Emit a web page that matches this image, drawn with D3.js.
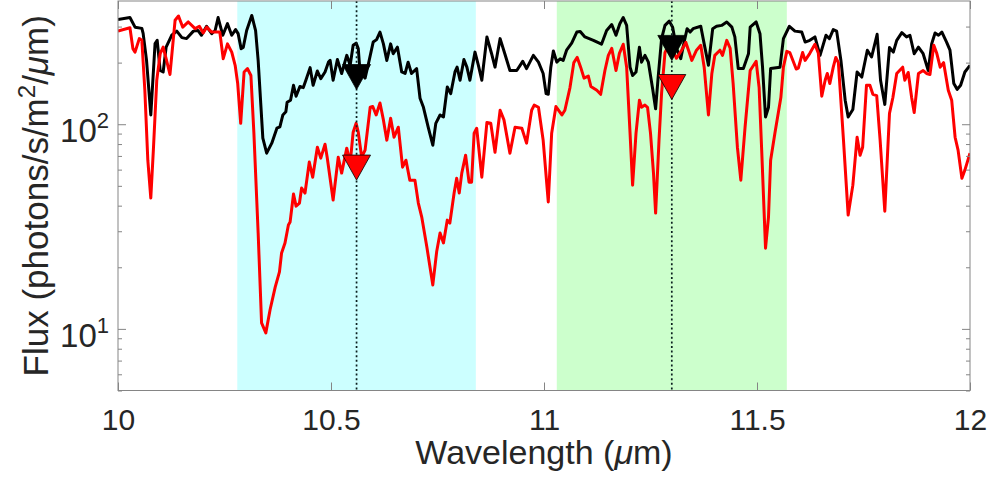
<!DOCTYPE html>
<html>
<head>
<meta charset="utf-8">
<script src="https://cdn.jsdelivr.net/npm/d3@7"></script>
<style>
body { margin: 0; background: #fff; }
text { font-family: "Liberation Sans", Arial, Helvetica, sans-serif; fill: #262626; }
</style>
</head>
<body>
<div id="chart"></div>
<script>
// spectrum values (wavelength in um, flux in photons/s/m2/um)
var blackWl = [10.000,10.028,10.040,10.056,10.059,10.067,10.077,10.087,10.092,10.099,
    10.106,10.113,10.126,10.138,10.150,10.161,10.177,10.188,10.196,10.208,
    10.220,10.228,10.235,10.246,10.257,10.267,10.276,10.282,10.289,10.294,
    10.302,10.314,10.323,10.329,10.340,10.349,10.361,10.373,10.380,10.387,
    10.394,10.397,10.405,10.412,10.418,10.427,10.435,10.441,10.451,10.458,
    10.468,10.476,10.486,10.494,10.498,10.505,10.515,10.525,10.537,10.545,
    10.552,10.559,10.564,10.568,10.580,10.588,10.599,10.607,10.615,10.623,
    10.631,10.640,10.646,10.656,10.666,10.674,10.681,10.689,10.701,10.709,
    10.717,10.728,10.739,10.746,10.756,10.764,10.773,10.781,10.791,10.796,
    10.803,10.812,10.819,10.826,10.838,10.846,10.854,10.866,10.877,10.885,
    10.897,10.908,10.920,10.936,10.944,10.950,10.959,10.975,10.987,10.998,
    11.005,11.010,11.016,11.022,11.030,11.038,11.045,11.053,11.065,11.077,
    11.085,11.096,11.116,11.135,11.147,11.159,11.169,11.178,11.186,11.194,
    11.202,11.208,11.216,11.224,11.229,11.237,11.245,11.255,11.262,11.268,
    11.276,11.284,11.294,11.302,11.311,11.321,11.329,11.336,11.343,11.350,
    11.368,11.376,11.386,11.396,11.405,11.417,11.429,11.441,11.448,11.456,
    11.468,11.480,11.484,11.498,11.507,11.513,11.520,11.527,11.532,11.554,
    11.562,11.576,11.589,11.605,11.613,11.624,11.636,11.648,11.662,11.670,
    11.679,11.687,11.697,11.707,11.714,11.725,11.735,11.746,11.759,11.769,
    11.782,11.790,11.800,11.811,11.820,11.828,11.840,11.851,11.859,11.869,
    11.879,11.890,11.902,11.910,11.918,11.926,11.934,11.945,11.953,11.962,
    11.970,11.978,11.988,12.000];
var blackFlux = [325,332,298,294,278,205,111,248,257,183,
    180,238,272,285,265,262,285,287,272,301,
    277,287,332,272,310,272,290,277,234,237,
    287,340,287,205,85.5,72.2,80.8,95.6,97,111,
    115,128,131,155,137,153,151,164,189,155,
    182,167,180,201,205,164,207,177,217,194,
    243,249,234,183,168,198,252,259,282,247,
    205,247,221,238,180,177,201,177,187,134,
    121,97,79,101,111,108.5,152,141,180,190,
    164,207,190,164,225,194,164,267,221,190,
    262,221,183,183,194,203,187,217,201,177,
    141,140,190,228,201,209,205,230,249,282,
    284,267,257,246,287,307,272,310,332,304,
    190,173,180,238,201,217,201,149,119,170,
    262,304,319,298,235,209,252,293,282,293,
    301,247,194,293,301,304,316,298,267,187,
    187,221,298,316,277,190,108.5,121,187,190,
    262,301,285,282,252,257,267,217,272,262,
    290,285,205,131,108.5,118,180,170,230,213,
    275,164,125,237,225,257,280,267,272,221,
    238,221,183,247,279,272,282,252,230,158,
    148,155,180,194];

var redWl = [10.000,10.028,10.035,10.040,10.050,10.056,10.063,10.070,10.077,10.083,
    10.091,10.099,10.106,10.114,10.122,10.134,10.142,10.152,10.165,10.181,
    10.191,10.200,10.208,10.220,10.239,10.247,10.257,10.267,10.275,10.281,
    10.288,10.296,10.304,10.312,10.319,10.329,10.337,10.347,10.357,10.369,
    10.379,10.384,10.392,10.400,10.404,10.412,10.418,10.426,10.431,10.439,
    10.449,10.457,10.468,10.476,10.486,10.491,10.505,10.517,10.525,10.537,
    10.545,10.552,10.559,10.564,10.572,10.580,10.592,10.598,10.606,10.615,
    10.623,10.631,10.640,10.648,10.658,10.668,10.676,10.685,10.697,10.705,
    10.713,10.725,10.739,10.748,10.756,10.764,10.773,10.779,10.789,10.795,
    10.801,10.807,10.816,10.824,10.830,10.836,10.842,10.854,10.866,10.875,
    10.885,10.897,10.906,10.920,10.932,10.948,10.959,10.971,10.977,10.987,
    10.998,11.010,11.018,11.028,11.042,11.049,11.061,11.070,11.078,11.086,
    11.094,11.104,11.110,11.124,11.133,11.143,11.151,11.159,11.169,11.177,
    11.186,11.194,11.202,11.208,11.216,11.224,11.229,11.237,11.243,11.250,
    11.257,11.262,11.270,11.276,11.284,11.292,11.302,11.311,11.323,11.333,
    11.341,11.347,11.358,11.368,11.376,11.386,11.394,11.401,11.413,11.419,
    11.429,11.437,11.444,11.454,11.462,11.472,11.484,11.498,11.505,11.511,
    11.520,11.527,11.532,11.542,11.556,11.562,11.570,11.577,11.592,11.597,
    11.607,11.613,11.624,11.636,11.644,11.652,11.660,11.665,11.671,11.679,
    11.685,11.691,11.703,11.714,11.725,11.735,11.742,11.748,11.757,11.765,
    11.772,11.781,11.789,11.800,11.811,11.819,11.828,11.842,11.847,11.855,
    11.863,11.869,11.879,11.890,11.898,11.906,11.915,11.922,11.930,11.938,
    11.949,11.957,11.965,11.972,11.981,11.988,12.000];
var redFlux = [285,296,234,225,262,257,146.5,66.7,43.6,74.7,
    164,221,238,205,175,322,338,298,316,293,
    301,279,298,282,282,209,247,225,194,158,
    101,180,187,173,90.4,29.4,10.7,9.56,12.4,16.0,
    19.0,23.5,26.3,32.2,33.3,45.6,39.8,41.2,48.8,46.1,
    65.3,55.1,77.2,68.3,79.9,69,42.6,69,57.7,76.4,
    64.5,91.4,101,91.4,69,74.7,121,122,111,127,
    105,83.6,107,86.4,96.7,61.7,66.7,53.3,53.3,41.2,
    35.2,25.1,16.4,23.8,29.4,26.3,34,32.9,46.1,54.5,
    46.1,57.7,70.6,52.1,52.1,90.4,95.6,55.1,102,101,
    73,117,105,72.2,96.7,95.6,80.8,117,124,121,
    83.6,41.7,90.4,122,111,117,151,200,212,190,
    168,172,153,146.5,140,183,217,235,183,222,
    246,190,90.4,50.4,90.4,131,121,124,121,90.4,
    57.7,36.8,83.6,142,224,243,230,210,230,251,
    224,205,230,243,190,111,177,217,230,217,
    257,235,158,77.2,53.3,96.7,183,203,151,74.7,
    24.8,35.2,66.7,90.4,135,190,227,224,186,188,
    224,205,222,246,222,137,164,177,158,190,
    212,200,83.6,36,50.4,86.4,70.6,77.2,155,155,
    140,138,83.6,37.6,113,135,177,190,164,179,
    135,114,177,183,177,175,243,222,190,200,
    146.5,131,86.4,74.7,54.5,59.7,72.2];

// marked wavelengths and their upper-limit markers
var markerWl = [10.56, 11.30];
var blackMarker = [170, 236];
var redMarker = [61.4, 152];

// shaded bands
var bandStart = [10.28, 11.03];
var bandEnd = [10.84, 11.57];
var bandColor = ["#ccffff", "#ccffcc"];

// ticks
var xTicks = [10, 10.5, 11, 11.5, 12];
var xTickLabels = ["10", "10.5", "11", "11.5", "12"];
var yMajor = [10, 100];
var yMajorExp = ["1", "2"];
var yMinor = [5, 6, 7, 8, 9, 20, 30, 40, 50, 60, 70, 80, 90, 200, 300];

var margin = {top: 1, right: 20, bottom: 91.5, left: 118},
    width = 990 - margin.left - margin.right,
    height = 482 - margin.top - margin.bottom;

var svg = d3.select("#chart").append("svg")
    .attr("width", width + margin.left + margin.right)
    .attr("height", height + margin.top + margin.bottom)
    .append("g")
    .attr("transform", "translate(" + margin.left + "," + margin.top + ")");

var xScale = d3.scaleLinear().domain([10, 12]).range([0, width]),
    yScale = d3.scaleLog().domain([5, 400]).range([height, 0]);

svg.append("clipPath").attr("id", "clip")
    .append("rect").attr("width", width).attr("height", height);

// bands
svg.selectAll(".band")
    .data(bandStart)
    .enter().append("rect")
    .attr("class", "band")
    .attr("x", function(d) { return xScale(d); })
    .attr("y", 0)
    .attr("width", function(d, i) { return xScale(bandEnd[i]) - xScale(d); })
    .attr("height", height)
    .attr("fill", function(d, i) { return bandColor[i]; });

var line = d3.line()
    .x(function(d) { return xScale(d[0]); })
    .y(function(d) { return yScale(d[1]); });

svg.append("path")
    .datum(d3.zip(blackWl, blackFlux))
    .attr("fill", "none")
    .attr("stroke", "#000")
    .attr("stroke-width", 3)
    .attr("stroke-linejoin", "round")
    .attr("clip-path", "url(#clip)")
    .attr("d", line);

svg.append("path")
    .datum(d3.zip(redWl, redFlux))
    .attr("fill", "none")
    .attr("stroke", "#ff0000")
    .attr("stroke-width", 3)
    .attr("stroke-linejoin", "round")
    .attr("clip-path", "url(#clip)")
    .attr("d", line);

// dotted lines
svg.selectAll(".vline")
    .data(markerWl)
    .enter().append("line")
    .attr("class", "vline")
    .attr("x1", function(d) { return xScale(d); })
    .attr("x2", function(d) { return xScale(d); })
    .attr("y1", 0)
    .attr("y2", height)
    .attr("stroke", "#0b1f1f")
    .attr("stroke-width", 1.7)
    .attr("stroke-dasharray", "2,2.6");

// down triangles
var tri = "M-14,-12.5L14,-12.5L0,12.5Z";
function markers(vals, color) {
    svg.selectAll(null)
        .data(vals)
        .enter().append("path")
        .attr("d", tri)
        .attr("transform", function(d, i) {
            return "translate(" + xScale(markerWl[i]) + "," + yScale(d) + ")";
        })
        .attr("fill", color)
        .attr("stroke", "#000")
        .attr("stroke-width", 0.8);
}
markers(blackMarker, "#000");
markers(redMarker, "#ff0000");

// axes
var axisColor = "#858585";

var xb = svg.append("g")
    .attr("class", "x axis")
    .attr("transform", "translate(0," + height + ")")
    .call(d3.axisBottom(xScale).tickValues(xTicks)
        .tickFormat(function(d, i) { return xTickLabels[i]; })
        .tickSize(-8).tickPadding(18));
xb.attr("font-size", 30).attr("font-family", null).attr("color", axisColor);
xb.select(".domain").remove();

var xt = svg.append("g")
    .call(d3.axisTop(xScale).tickValues(xTicks).tickFormat("").tickSize(-8));
xt.attr("color", axisColor).select(".domain").remove();

[[d3.axisLeft, 0], [d3.axisRight, width]].forEach(function(a) {
    var gMaj = svg.append("g")
        .attr("transform", "translate(" + a[1] + ",0)")
        .call(a[0](yScale).tickValues(yMajor).tickFormat("").tickSize(-8));
    gMaj.attr("color", axisColor).select(".domain").remove();
    var gMin = svg.append("g")
        .attr("transform", "translate(" + a[1] + ",0)")
        .call(a[0](yScale).tickValues(yMinor).tickFormat("").tickSize(-4));
    gMin.attr("color", axisColor).select(".domain").remove();
});

svg.append("rect")
    .attr("width", width)
    .attr("height", height)
    .attr("fill", "none")
    .attr("stroke", axisColor)
    .attr("stroke-width", 1);

// y tick labels with exponents
var yl = svg.selectAll(".ylab")
    .data(yMajor)
    .enter().append("text")
    .attr("class", "ylab")
    .attr("x", -9)
    .attr("y", function(d) { return yScale(d) + 18; })
    .attr("text-anchor", "end")
    .style("font-size", "33px");
yl.append("tspan").text("10");
yl.append("tspan")
    .attr("dy", -14)
    .style("font-size", "22px")
    .text(function(d, i) { return yMajorExp[i]; });

// axis labels
var ylab = svg.append("text")
    .attr("transform", "translate(" + (48 - margin.left) + "," + (height / 2) + ") rotate(-90)")
    .attr("text-anchor", "middle")
    .style("font-size", "35px");
ylab.append("tspan").text("Flux (photons/s/m");
ylab.append("tspan").attr("dy", -13).style("font-size", "24px").text("2");
ylab.append("tspan").attr("dy", 13).text("/");
ylab.append("tspan").style("font-style", "italic").text("\u03bc");
ylab.append("tspan").text("m)");

var xlab = svg.append("text")
    .attr("x", width / 2)
    .attr("y", 464 - margin.top)
    .attr("text-anchor", "middle")
    .style("font-size", "34px");
xlab.append("tspan").text("Wavelength (");
xlab.append("tspan").style("font-style", "italic").text("\u03bc");
xlab.append("tspan").text("m)");
</script>
</body>
</html>
